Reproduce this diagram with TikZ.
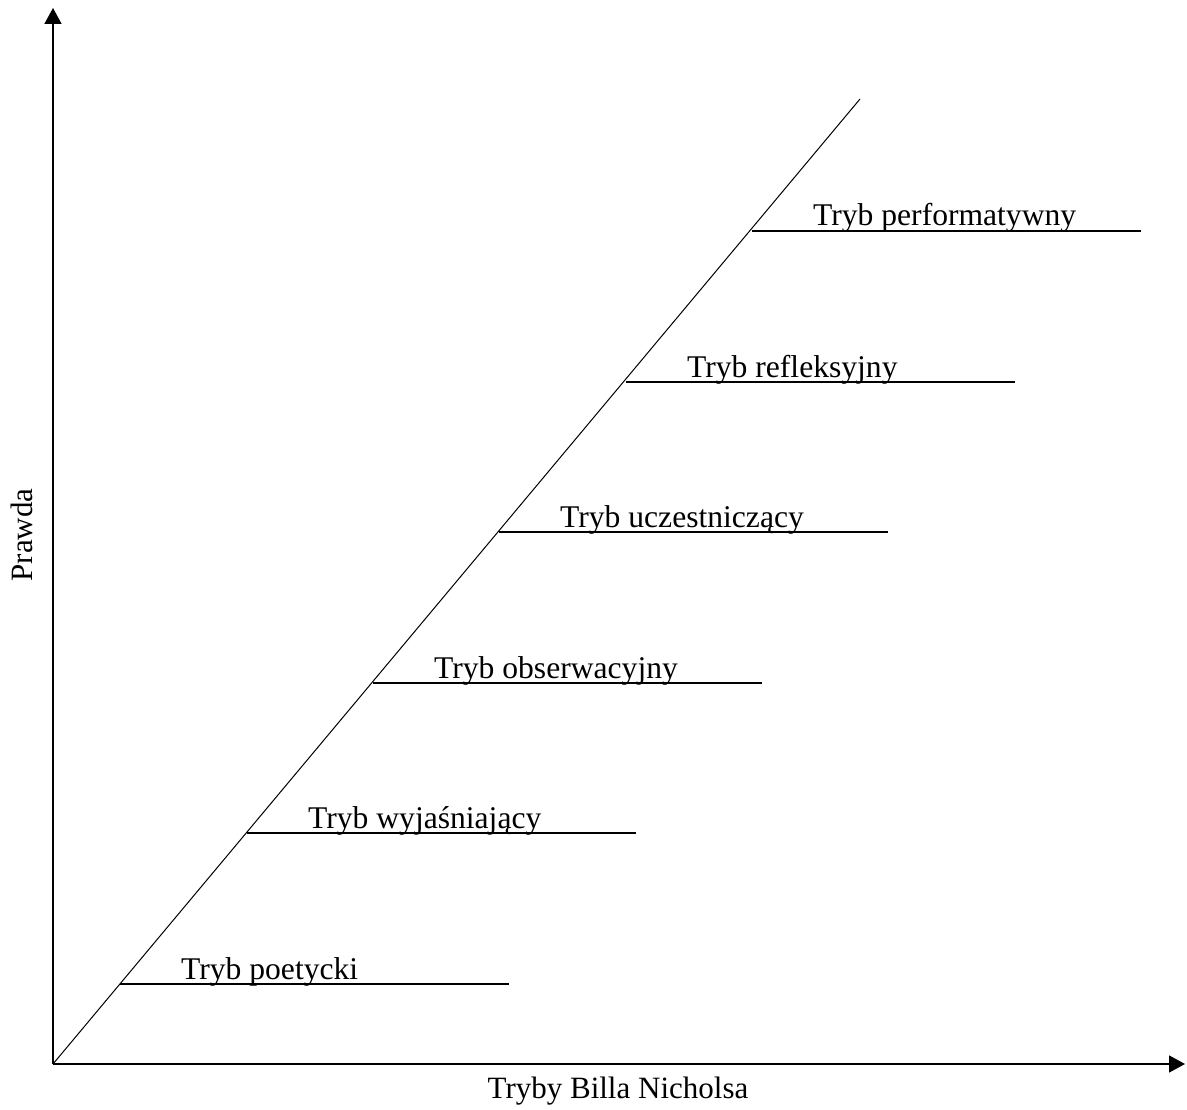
\documentclass[tikz,border=0pt]{standalone}
\usepackage{fontspec}
\setmainfont{Liberation Serif}
\usetikzlibrary{arrows.meta}
\begin{document}
\begin{tikzpicture}[x=1pt,y=-1pt,
  axis/.style={line width=1.6pt,-{Triangle[width=17pt,length=16pt]}},
  modeline/.style={line width=1.1pt},
  modelabel/.style={anchor=base west,inner sep=0pt,font=\fontsize{31.6}{36}\selectfont},
  axlabel/.style={inner sep=0pt,font=\fontsize{31}{36}\selectfont}]
\useasboundingbox (0,0) rectangle (1187,1110);
\coordinate (O) at (53,1064);
\coordinate (ytop) at (53,8);
\coordinate (xend) at (1185,1064);
\coordinate (dtop) at (860,99);
\draw[axis] (O) -- (ytop);
\draw[axis] (O) -- (xend);
\draw[line width=1pt] (O) -- (dtop);
% mode lines
\foreach \n/\xs/\yy/\t in {a/120/984/Tryb poetycki,b/247/833/Tryb wyjaśniający,c/373/683/Tryb obserwacyjny,d/499/532/Tryb uczestniczący,e/626/382/Tryb refleksyjny,f/752/231/Tryb performatywny}{
  \coordinate (\n s) at (\xs,\yy);
  \coordinate (\n e) at (\xs+389,\yy);
  \draw[modeline] (\n s) -- (\n e);
  \node[modelabel] (\n lab) at (\xs+61,\yy-5) {\t};
}
\node[axlabel,anchor=base] (xlab) at (618,1098) {Tryby Billa Nicholsa};
\node[axlabel,anchor=base,rotate=90] (ylab) at (32,535) {Prawda};
\end{tikzpicture}
\end{document}
